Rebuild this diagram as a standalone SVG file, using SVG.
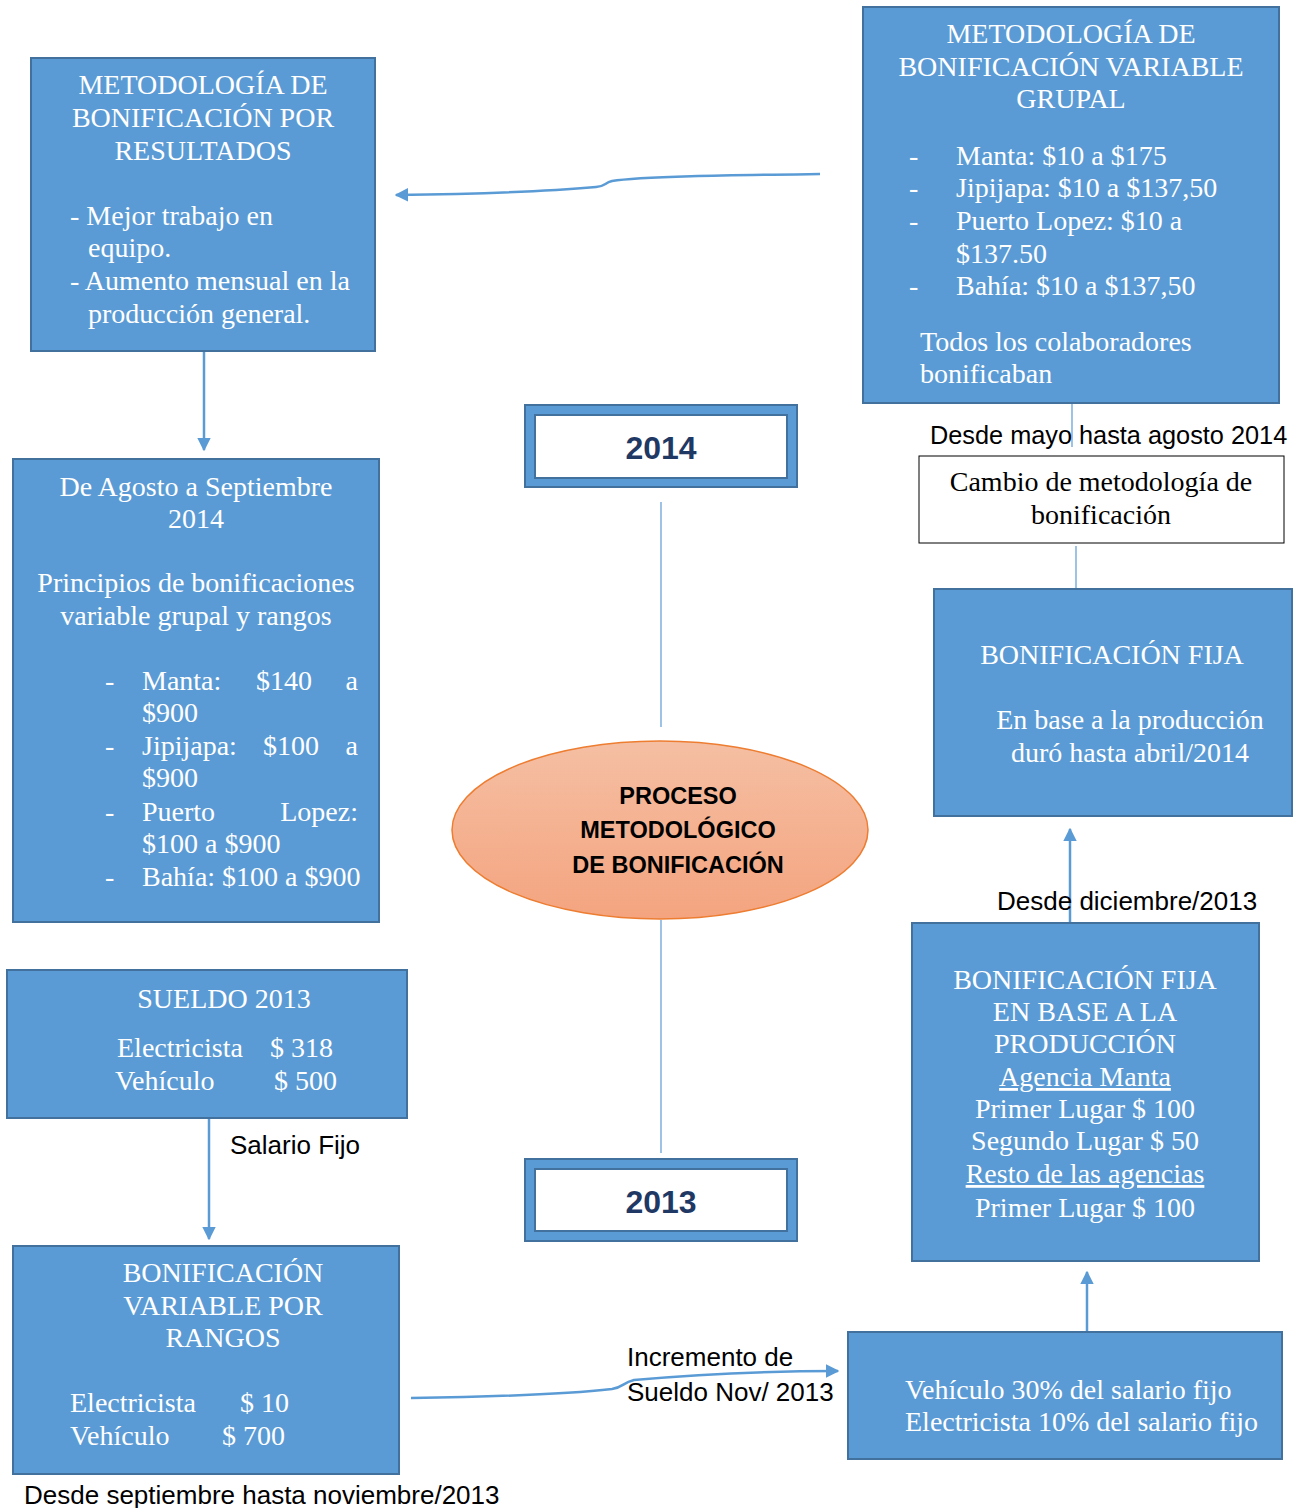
<svg xmlns="http://www.w3.org/2000/svg" width="1297" height="1508" viewBox="0 0 1297 1508">
  <style>
    .box { fill: #5B9BD5; stroke: #41719C; stroke-width: 2; }
    .wbox { fill: #FFFFFF; stroke: #000000; stroke-width: 1; }
    .t { font-family: "Liberation Serif", "Times New Roman", serif; font-size: 28px; fill: #FFFFFF; }
    .c { text-anchor: middle; }
    .e { text-anchor: end; }
    .dark { fill: #000000; }
    .lbl { font-family: "Liberation Sans", Arial, sans-serif; font-size: 26px; fill: #000000; }
    .year { font-family: "Liberation Sans", Arial, sans-serif; font-size: 32px; font-weight: bold; fill: #1F3864; text-anchor: middle; }
    .core { font-family: "Liberation Sans", Arial, sans-serif; font-size: 23.5px; font-weight: bold; fill: #000000; text-anchor: middle; }
    .arrow { fill: none; stroke: #5B9BD5; stroke-width: 2.5; }
    .thin { fill: none; stroke: #5B9BD5; stroke-width: 1.2; }
    .u { text-decoration: underline; }
  </style>
  <defs>
    <marker id="head" viewBox="0 0 10 10" refX="9" refY="5" markerWidth="5.5" markerHeight="5.5" orient="auto" markerUnits="strokeWidth">
      <path d="M0,0 L10,5 L0,10 z" fill="#5B9BD5"/>
    </marker>
    <linearGradient id="peach" x1="0" y1="0" x2="0" y2="1">
      <stop offset="0" stop-color="#F5BFA3"/>
      <stop offset="1" stop-color="#F4A47F"/>
    </linearGradient>
  </defs>

  <!-- connectors -->
  <g id="connectors">
    <path class="arrow" d="M820,174 C740,175 640,176 612,181 C604,183 606,186 596,187 C540,192 470,194 396,195" marker-end="url(#head)"/>
    <path class="arrow" d="M204,351 L204,450" marker-end="url(#head)"/>
    <path class="thin" d="M661,502 L661,727"/>
    <path class="thin" d="M661,920 L661,1153"/>
    <path class="thin" d="M1072,403 L1072,447"/>
    <path class="thin" d="M1076,546 L1076,589"/>
    <path class="arrow" d="M1070,922 L1070,829" marker-end="url(#head)"/>
    <path class="arrow" d="M1087,1332 L1087,1272" marker-end="url(#head)"/>
    <path class="arrow" d="M209,1118 L209,1239" marker-end="url(#head)"/>
    <path class="arrow" d="M411,1398 C480,1397 560,1395 612,1389 C624,1387 622,1383 634,1380 C700,1374 770,1371 838,1371" marker-end="url(#head)"/>
    <text class="lbl" x="930" y="444" style="font-size:25.3px">Desde mayo hasta agosto 2014</text>
    <text class="lbl" x="997" y="910">Desde diciembre/2013</text>
    <text class="lbl" x="230" y="1154">Salario Fijo</text>
    <text class="lbl" x="627" y="1366">Incremento de</text>
    <text class="lbl" x="627" y="1401">Sueldo Nov/ 2013</text>
    <text class="lbl" x="24" y="1504">Desde septiembre hasta noviembre/2013</text>
  </g>

  <!-- results-based bonus methodology -->
  <g id="metodo-resultados">
    <rect class="box" x="31" y="58" width="344" height="293"/>
    <text class="t c" x="203" y="94">METODOLOGÍA DE</text>
    <text class="t c" x="203" y="127">BONIFICACIÓN POR</text>
    <text class="t c" x="203" y="160">RESULTADOS</text>
    <text class="t" x="70" y="225">- Mejor trabajo en</text>
    <text class="t" x="88" y="257">equipo.</text>
    <text class="t" x="70" y="290">- Aumento mensual en la</text>
    <text class="t" x="88" y="323">producción general.</text>
  </g>

  <!-- group variable bonus methodology -->
  <g id="metodo-grupal">
    <rect class="box" x="863" y="7" width="416" height="396"/>
    <text class="t c" x="1071" y="43">METODOLOGÍA DE</text>
    <text class="t c" x="1071" y="76">BONIFICACIÓN VARIABLE</text>
    <text class="t c" x="1071" y="108">GRUPAL</text>
    <text class="t" x="909" y="165">-</text>
    <text class="t" x="956" y="165">Manta: $10 a $175</text>
    <text class="t" x="909" y="197">-</text>
    <text class="t" x="956" y="197">Jipijapa: $10 a $137,50</text>
    <text class="t" x="909" y="230">-</text>
    <text class="t" x="956" y="230">Puerto Lopez: $10 a</text>
    <text class="t" x="956" y="263">$137.50</text>
    <text class="t" x="909" y="295">-</text>
    <text class="t" x="956" y="295">Bahía: $10 a $137,50</text>
    <text class="t" x="920" y="351">Todos los colaboradores</text>
    <text class="t" x="920" y="383">bonificaban</text>
  </g>

  <!-- year 2014 -->
  <g id="anio-2014">
    <rect x="525" y="405" width="272" height="82" fill="#5B9BD5" stroke="#41719C" stroke-width="2"/>
    <rect x="535" y="415" width="252" height="63" fill="#FFFFFF" stroke="#41719C" stroke-width="2"/>
    <text class="year" x="661" y="459">2014</text>
  </g>

  <!-- August-September 2014 -->
  <g id="agosto-septiembre">
    <rect class="box" x="13" y="459" width="366" height="463"/>
    <text class="t c" x="196" y="496">De Agosto a Septiembre</text>
    <text class="t c" x="196" y="528">2014</text>
    <text class="t c" x="196" y="592">Principios de bonificaciones</text>
    <text class="t c" x="196" y="625">variable grupal y rangos</text>
    <text class="t" x="105" y="690">-</text>
    <text class="t" x="142" y="690">Manta:</text>
    <text class="t" x="256" y="690">$140</text>
    <text class="t e" x="358" y="690">a</text>
    <text class="t" x="142" y="722">$900</text>
    <text class="t" x="105" y="755">-</text>
    <text class="t" x="142" y="755">Jipijapa:</text>
    <text class="t" x="263" y="755">$100</text>
    <text class="t e" x="358" y="755">a</text>
    <text class="t" x="142" y="787">$900</text>
    <text class="t" x="105" y="821">-</text>
    <text class="t" x="142" y="821">Puerto</text>
    <text class="t e" x="358" y="821">Lopez:</text>
    <text class="t" x="142" y="853">$100 a $900</text>
    <text class="t" x="105" y="886">-</text>
    <text class="t" x="142" y="886">Bahía: $100 a $900</text>
  </g>

  <!-- central process -->
  <g id="proceso">
    <ellipse cx="660" cy="830" rx="208" ry="89" fill="url(#peach)" stroke="#ED7D31" stroke-width="1.5"/>
    <text class="core" x="678" y="804">PROCESO</text>
    <text class="core" x="678" y="838">METODOLÓGICO</text>
    <text class="core" x="678" y="873">DE BONIFICACIÓN</text>
  </g>

  <!-- methodology change -->
  <g id="cambio">
    <rect class="wbox" x="919" y="456" width="365" height="87"/>
    <text class="t c dark" x="1101" y="491">Cambio de metodología de</text>
    <text class="t c dark" x="1101" y="524">bonificación</text>
  </g>

  <!-- fixed bonus -->
  <g id="fija">
    <rect class="box" x="934" y="589" width="358" height="227"/>
    <text class="t c" x="1112" y="664">BONIFICACIÓN FIJA</text>
    <text class="t c" x="1130" y="729">En base a la producción</text>
    <text class="t c" x="1130" y="762">duró hasta abril/2014</text>
  </g>

  <!-- fixed bonus by production -->
  <g id="fija-produccion">
    <rect class="box" x="912" y="923" width="347" height="338"/>
    <text class="t c" x="1085" y="989">BONIFICACIÓN FIJA</text>
    <text class="t c" x="1085" y="1021">EN BASE A LA</text>
    <text class="t c" x="1085" y="1053">PRODUCCIÓN</text>
    <text class="t c u" x="1085" y="1086">Agencia Manta</text>
    <text class="t c" x="1085" y="1118">Primer Lugar $ 100</text>
    <text class="t c" x="1085" y="1150">Segundo Lugar $ 50</text>
    <text class="t c u" x="1085" y="1183">Resto de las agencias</text>
    <text class="t c" x="1085" y="1217">Primer Lugar $ 100</text>
  </g>

  <!-- salary increase -->
  <g id="incremento">
    <rect class="box" x="848" y="1332" width="434" height="127"/>
    <text class="t" x="905" y="1399">Vehículo 30% del salario fijo</text>
    <text class="t" x="905" y="1431">Electricista 10% del salario fijo</text>
  </g>

  <!-- year 2013 -->
  <g id="anio-2013">
    <rect x="525" y="1159" width="272" height="82" fill="#5B9BD5" stroke="#41719C" stroke-width="2"/>
    <rect x="535" y="1169" width="252" height="62" fill="#FFFFFF" stroke="#41719C" stroke-width="2"/>
    <text class="year" x="661" y="1213">2013</text>
  </g>

  <!-- salary 2013 -->
  <g id="sueldo-2013">
    <rect class="box" x="7" y="970" width="400" height="148"/>
    <text class="t c" x="224" y="1008">SUELDO 2013</text>
    <text class="t" x="117" y="1057">Electricista</text>
    <text class="t" x="270" y="1057">$ 318</text>
    <text class="t" x="115" y="1090">Vehículo</text>
    <text class="t" x="274" y="1090">$ 500</text>
  </g>

  <!-- variable bonus by ranges -->
  <g id="variable-rangos">
    <rect class="box" x="13" y="1246" width="386" height="228"/>
    <text class="t c" x="223" y="1282">BONIFICACIÓN</text>
    <text class="t c" x="223" y="1315">VARIABLE POR</text>
    <text class="t c" x="223" y="1347">RANGOS</text>
    <text class="t" x="70" y="1412">Electricista</text>
    <text class="t" x="240" y="1412">$ 10</text>
    <text class="t" x="70" y="1445">Vehículo</text>
    <text class="t" x="222" y="1445">$ 700</text>
  </g>
</svg>
